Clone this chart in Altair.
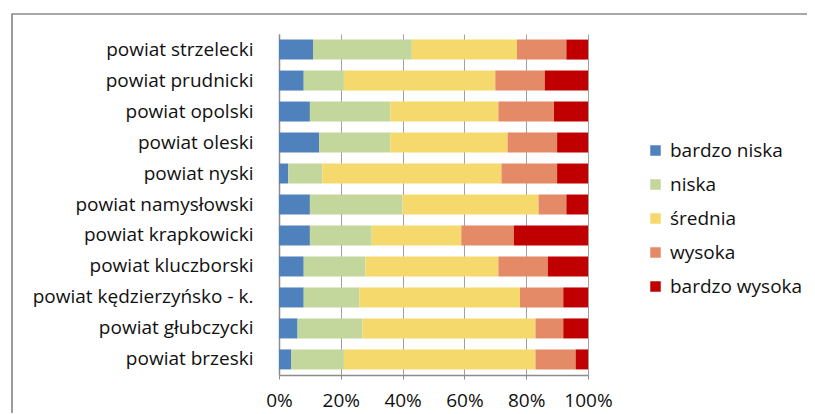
import altair as alt
import pandas as pd

categories = ["powiat strzelecki", "powiat prudnicki", "powiat opolski", "powiat oleski",
              "powiat nyski", "powiat namysłowski", "powiat krapkowicki", "powiat kluczborski",
              "powiat kędzierzyńsko - k.", "powiat głubczycki", "powiat brzeski"]
levels = ["bardzo niska", "niska", "średnia", "wysoka", "bardzo wysoka"]
colors = ["#4F81BD", "#C3D69B", "#F5D96C", "#E48A66", "#C00000"]

bardzo_niska = [11, 8, 10, 13, 3, 10, 10, 8, 8, 6, 4]
niska = [32, 13, 26, 23, 11, 30, 20, 20, 18, 21, 17]
srednia = [34, 49, 35, 38, 58, 44, 29, 43, 52, 56, 62]
wysoka = [16, 16, 18, 16, 18, 9, 17, 16, 14, 9, 13]
bardzo_wysoka = [7, 14, 11, 10, 10, 7, 24, 13, 8, 8, 4]
x_ticks = [0, 20, 40, 60, 80, 100]

series = [bardzo_niska, niska, srednia, wysoka, bardzo_wysoka]
rows = []
for li, (lev, vals) in enumerate(zip(levels, series)):
    for c, v in zip(categories, vals):
        rows.append({"powiat": c, "poziom": lev, "idx": li, "wartosc": v})
df = pd.DataFrame(rows)

FONT = "Open Sans"
GRAY = "#8C8C8C"

frame = alt.Chart(pd.DataFrame({"a": [0]})).mark_rect(
    fillOpacity=0, stroke=GRAY, strokeWidth=1.7, clip=False
).encode(
    x=alt.value(-267), x2=alt.value(560), y=alt.value(-20), y2=alt.value(420)
)

bars = alt.Chart(df).mark_bar().encode(
    y=alt.Y("powiat:N", sort=categories, title=None,
            scale=alt.Scale(paddingInner=0.355, paddingOuter=0.18),
            axis=alt.Axis(ticks=False, labelPadding=26, labelFontSize=19, labelFont=FONT,
                          labelColor="#111111", domainColor=GRAY, domainWidth=1.5,
                          labelLimit=400, grid=False)),
    x=alt.X("wartosc:Q", stack="zero", title=None,
            scale=alt.Scale(domain=[0, 100], nice=False),
            axis=alt.Axis(values=x_ticks, labelExpr="datum.value + '%'", grid=True,
                          gridColor="#A0A0A0", gridWidth=1, domainColor=GRAY,
                          domainWidth=1.5, tickColor=GRAY, tickSize=4, labelPadding=12,
                          labelFlush=False, labelFontSize=19, labelFont=FONT,
                          labelColor="#111111")),
    color=alt.Color("poziom:N", sort=levels,
                    scale=alt.Scale(domain=levels, range=colors),
                    legend=alt.Legend(title=None, orient="none", legendX=367, legendY=107,
                                      symbolType="square", symbolSize=110,
                                      symbolStrokeWidth=0, labelFontSize=19,
                                      labelFont=FONT, labelColor="#111111",
                                      rowPadding=14, labelOffset=5)),
    order=alt.Order("idx:Q"),
)

chart = alt.layer(frame, bars).properties(
    width=309, height=341,
    autosize=alt.AutoSizeParams(type="none"),
    padding={"left": 271, "top": 26, "right": 219, "bottom": 38},
).configure_view(stroke=None)

chart.save("out.html", embed_options={"renderer": "svg", "actions": False})
